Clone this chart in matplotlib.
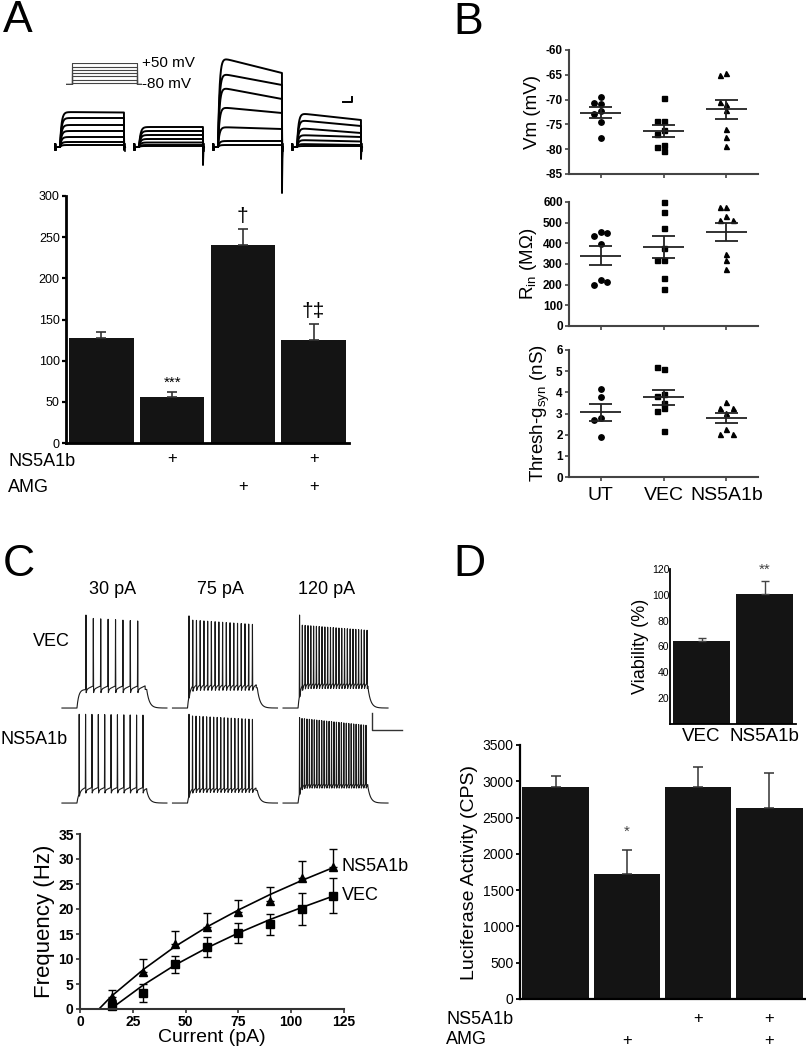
import numpy as np
import matplotlib
matplotlib.use("Agg")
import matplotlib.pyplot as plt
from matplotlib import transforms

plt.rcParams['font.family'] = ['Liberation Sans', 'DejaVu Sans']
plt.rcParams['axes.unicode_minus'] = False

# ---------------- data ----------------
# A: bar chart (current, pA/pF)
a_vals = [128, 56, 240, 125]
a_err = [7, 6, 20, 20]
a_ns5a1b = [False, True, False, True]
a_amg = [False, False, True, True]
a_marks = ['', '***', '\u2020', '\u2020\u2021']

# A: voltage-clamp families (nA), 7 sweeps each
fam_peak = [[3.5, 2.9, 2.2, 1.6, 1.0, 0.5, 0.2],
            [2.0, 1.6, 1.2, 0.8, 0.45, 0.2, 0.1],
            [9.0, 7.4, 6.0, 4.0, 2.0, 0.6, 0.2],
            [3.4, 2.7, 1.9, 1.2, 0.7, 0.3, 0.1]]
fam_end = [[3.45, 2.9, 2.2, 1.6, 1.0, 0.5, 0.2],
           [2.0, 1.6, 1.2, 0.8, 0.45, 0.2, 0.1],
           [7.4, 6.2, 4.8, 3.4, 1.8, 0.6, 0.2],
           [2.7, 2.1, 1.4, 1.0, 0.55, 0.2, 0.1]]
fam_tail = [0.3, 1.8, 4.6, 1.2]
prot_steps = [-70, -50, -30, -10, 10, 30, 50]
prot_hold = -80

# B: scatter data
b_groups = ['UT', 'VEC', 'NS5A1b']
vm = [[-69.5, -70.6, -70.9, -72.3, -72.9, -74.6, -77.8],
      [-69.6, -74.4, -74.4, -76.1, -76.9, -79.2, -79.6, -80.4],
      [-64.7, -65.0, -70.9, -70.4, -72.1, -75.9, -77.6, -79.3]]
rin = [[456, 437, 449, 397, 223, 198, 214],
       [599, 553, 476, 379, 319, 319, 231, 178],
       [576, 576, 532, 515, 515, 347, 318, 276]]
gsyn = [[4.18, 3.77, 2.78, 2.69, 1.90],
        [5.10, 5.18, 3.92, 3.84, 3.50, 3.24, 3.13, 2.18],
        [3.52, 3.28, 3.28, 3.03, 2.29, 2.05, 2.05]]
b_markers = ['o', 's', '^']

# C: current-clamp example traces
c_currents = ['30 pA', '75 pA', '120 pA']
# n spikes, first t, last t (ms), first/second/last peak (mV), plateau (mV), sawtooth depth
c_vec = [(8, 160, 505, 40, 36, 33, -48, 6),
         (18, 110, 533, 39, 34, 29, -46, 5),
         (25, 110, 560, 40, 28, 22, -44, 5)]
c_ns = [(11, 115, 540, 35, 35, 34, -55, 5),
        (19, 110, 533, 35, 33, 29, -55, 4),
        (28, 110, 553, 31, 30, 22, -50, 4)]

# C: f-I curve
current = [15, 30, 45, 60, 75, 90, 105, 120]
ns_freq = [2.4, 7.5, 13.0, 16.5, 19.4, 21.7, 26.3, 28.5]
ns_err = [1.5, 2.5, 2.7, 2.7, 2.5, 2.7, 3.4, 3.5]
vec_freq = [0.7, 3.3, 9.0, 12.5, 15.3, 17.0, 20.1, 22.7]
vec_err = [0.3, 1.8, 1.7, 2.0, 2.0, 2.1, 3.2, 3.5]
ns_fit_x = [9, 15, 30, 45, 60, 75, 90, 105, 120]
ns_fit_y = [0, 2.6, 7.9, 12.5, 16.4, 19.8, 22.9, 25.7, 28.3]
vec_fit_x = [14.5, 30, 45, 60, 75, 90, 105, 120]
vec_fit_y = [0, 4.8, 8.8, 12.2, 15.2, 17.9, 20.3, 22.6]

# D: viability inset
via_groups = ['VEC', 'NS5A1b']
via_vals = [64, 101]
via_err = [2.5, 10]

# D: luciferase
d_vals = [2920, 1720, 2920, 2630]
d_err = [150, 340, 270, 490]
d_ns5a1b = [False, False, True, True]
d_amg = [False, True, False, True]

# ---------------- figure ----------------
W, H = 806, 1050
fig = plt.figure(figsize=(W / 100, H / 100), dpi=100)


def axbox(x0, y0, x1, y1):
    return fig.add_axes([x0 / W, 1 - y1 / H, (x1 - x0) / W, (y1 - y0) / H])


def ftext(x, y, s, **kw):
    fig.text(x / W, 1 - y / H, s, **kw)


def style_axes(ax, lw=1.5, color='k', bold=False, size=9):
    for s in ['top', 'right']:
        ax.spines[s].set_visible(False)
    for s in ['left', 'bottom']:
        ax.spines[s].set_linewidth(lw)
        ax.spines[s].set_color(color)
    ax.tick_params(direction='out', length=3, width=lw * 0.8, color=color,
                   labelsize=size, pad=1.5)
    if bold:
        for lab in ax.get_yticklabels() + ax.get_xticklabels():
            lab.set_fontweight('bold')


# panel letters
for lab, x, y in [('A', 3, 20), ('B', 453, 22), ('C', 3, 565), ('D', 453, 565)]:
    ftext(x, y, lab, fontsize=32, va='center', ha='left')

# ---- A: traces ----
axt = axbox(50, 50, 370, 200)
axt.set_xlim(-10, 630)
axt.set_ylim(-5.3, 9.7)
axt.axis('off')
t = np.arange(0, 140, 0.1)
t_on, t_off = 10, 138
for i in range(4):
    t0 = i * 158
    for k in range(len(fam_peak[i])):
        pk, en = fam_peak[i][k], fam_end[i][k]
        cur = np.zeros_like(t)
        on = (t >= t_on) & (t < t_off)
        tt = t[on] - t_on
        cur[on] = (1 - np.exp(-tt / 3.0)) * (pk + (en - pk) * tt / (t_off - t_on))
        if k == 0:
            post = t >= t_off
            cur[post] = -fam_tail[i] * np.exp(-(t[post] - t_off) / 0.6)
        cur[(t < 0.6)] = 0.3
        cur[(t >= 0.6) & (t < 1.2)] = -0.3
        axt.plot(t + t0, cur, color='k', lw=1.4)
    axt.plot([t0 + t_off + 1, t0 + t_off + 1], [-0.35, 0.3], color='k', lw=1.2)
# scale bar
axt.plot([576, 594, 594], [4.5, 4.5, 5.0], color='k', lw=1.4)

# voltage protocol
axp = axbox(66, 63, 142, 85)
axp.axis('off')
axp.set_xlim(0, 100)
axp.set_ylim(-84, 53)
for v in prot_steps:
    axp.plot([0, 8, 8, 94, 94, 100], [prot_hold, prot_hold, v, v, prot_hold, prot_hold],
             color='#444', lw=0.8)
axp.text(100, prot_steps[-1], '+50 mV', fontsize=11, va='center', ha='left', clip_on=False)
axp.text(100, prot_hold, '-80 mV', fontsize=11, va='center', ha='left', clip_on=False)

# ---- A: bar chart ----
axa = axbox(66, 196, 349, 443)
xa = np.arange(len(a_vals))
axa.bar(xa, a_vals, width=0.91, color='#141414')
axa.errorbar(xa, a_vals, yerr=[np.zeros(4), a_err], fmt='none', ecolor='#333',
             capsize=3.5, elinewidth=1.2, capthick=1.2)
axa.set_xlim(-0.5, 3.5)
axa.set_ylim(0, 300)
axa.set_yticks(range(0, 301, 50))
axa.set_xticks([])
style_axes(axa, lw=2, size=9)
for x, v, e, m in zip(xa, a_vals, a_err, a_marks):
    if m:
        fs = 11 if m == '***' else 15
        axa.text(x, v + e + 3, m, ha='center', va='bottom', fontsize=fs)
bt = transforms.blended_transform_factory(axa.transData, fig.transFigure)
ftext(8, 462, 'NS5A1b', fontsize=13, va='center')
ftext(8, 487, 'AMG', fontsize=13, va='center')
for x, f1, f2 in zip(xa, a_ns5a1b, a_amg):
    if f1:
        axa.text(x, 1 - 459 / H, '+', transform=bt, ha='center', va='center', fontsize=12)
    if f2:
        axa.text(x, 1 - 486 / H, '+', transform=bt, ha='center', va='center', fontsize=12)


# ---- B: scatter panels ----
def swarm(vals, ax_h_px, lo, hi, d=0.11, tol=5.5):
    scale = ax_h_px / (hi - lo)
    placed, offs = [], []
    for v in vals:
        y = v * scale
        for off in [0, -d, d, -2 * d, 2 * d]:
            if all(abs(y - py) >= tol or abs(off - po) > 1e-9 for po, py in placed):
                break
        placed.append((off, y))
        offs.append(off)
    return np.array(offs)


b_specs = [(vm, (50, 174), (-85, -60), range(-85, -59, 5), 'Vm (mV)'),
           (rin, (202, 326), (0, 600), range(0, 601, 100), 'R$_{\\mathregular{in}}$ (M\u03a9)'),
           (gsyn, (350, 477), (0, 6), range(0, 7), 'Thresh-g$_{\\mathregular{syn}}$ (nS)')]
for j, (data, (y0, y1), (lo, hi), ticks, ylab) in enumerate(b_specs):
    ax = axbox(569, y0, 758, y1)
    for g, vals in enumerate(data):
        vals = np.array(vals)
        offs = swarm(vals, y1 - y0, lo, hi)
        ax.plot(g + offs, vals, b_markers[g], color='k', ms=3.6 if g else 3.9, ls='none',
                clip_on=False)
        m = vals.mean()
        s = vals.std(ddof=1) / np.sqrt(len(vals))
        ax.hlines(m, g - 0.33, g + 0.33, color='#222', lw=1.3)
        ax.hlines([m - s, m + s], g - 0.18, g + 0.18, color='#222', lw=1.3)
        ax.vlines(g, m - s, m + s, color='#222', lw=1.3)
    ax.set_xlim(-0.5, 2.5)
    ax.set_ylim(lo, hi)
    ax.set_yticks(list(ticks))
    ax.set_xticks([0, 1, 2])
    ax.set_xticklabels(b_groups if j == 2 else ['', '', ''])
    style_axes(ax, lw=1.5, color='#444', bold=True, size=8.5)
    ax.tick_params(axis='x', labelsize=14, pad=4)
    for lab in ax.get_xticklabels():
        lab.set_fontweight('normal')
    ax.set_ylabel(ylab, fontsize=13.5, labelpad=3)

# ---- C: example traces ----
cc_on, cc_off = 100, 565
dt_c = 0.25
tc = np.arange(0, 700, dt_c)


def cc_trace(n, t1, tn, pk1, pk2, pkn, plateau, depth):
    v = np.full_like(tc, -70.0)
    dur = (tc >= cc_on) & (tc < cc_off)
    v[dur] = -70 + (plateau + 70) * (1 - np.exp(-(tc[dur] - cc_on) / 12))
    post = tc >= cc_off
    v[post] = -70 + (plateau + 70) * np.exp(-(tc[post] - cc_off) / 18)
    spk = np.round(np.linspace(t1, tn, n) / dt_c) * dt_c
    pks = np.r_[pk1, np.linspace(pk2, pkn, n - 1)]
    isi = (tn - t1) / max(n - 1, 1)
    for ts in spk:
        seg = (tc >= ts) & (tc < min(ts + isi, cc_off))
        dt = tc[seg] - ts
        v[seg] += depth * (0.7 * dt / isi - np.exp(-dt / 4))
    for ts, pk in zip(spk, pks):
        m = np.abs(tc - ts) < 1.6
        v[m] = pk - (pk - v[m]) * np.abs(tc[m] - ts) / 1.6
    return v


row_specs = [(c_vec, (605, 712), (-74.7, 51.9)), (c_ns, (705, 812), (-80.6, 46.0))]
for r, (params, (y0, y1), ylim) in enumerate(row_specs):
    ax = axbox(60, y0, 405, y1)
    ax.axis('off')
    ax.set_xlim(-13, -13 + 345 / 0.15)
    ax.set_ylim(*ylim)
    for i, p in enumerate(params):
        ax.plot(tc + i * 737, cc_trace(*p), color='#1a1a1a', lw=0.8)
    if r == 1:
        ax.plot([2067, 2067, 2267], [36, 16, 16], color='#333', lw=1.0, clip_on=False)

for i, lab in enumerate(c_currents):
    ftext(113 + i * 107, 590, lab, fontsize=13, ha='center', va='center')
ftext(51, 641, 'VEC', fontsize=13, ha='center', va='center')
ftext(34, 740, 'NS5A1b', fontsize=13, ha='center', va='center')

# ---- C: f-I plot ----
axc = axbox(80, 834, 344, 1009)
axc.plot(ns_fit_x, ns_fit_y, color='k', lw=1.2)
axc.plot(vec_fit_x, vec_fit_y, color='k', lw=1.2)
axc.errorbar(current, ns_freq, yerr=[np.zeros(len(ns_err)), ns_err], fmt='^', color='k',
             ms=5.5, capsize=3, elinewidth=1, capthick=1, clip_on=False)
axc.errorbar(current, vec_freq, yerr=vec_err, fmt='s', color='k',
             ms=5.5, capsize=3, elinewidth=1, capthick=1, clip_on=False)
axc.set_xlim(0, 125)
axc.set_ylim(0, 35)
axc.set_xticks(range(0, 126, 25))
axc.set_yticks(range(0, 36, 5))
style_axes(axc, lw=1.5, color='#333', bold=True, size=10)
axc.set_xlabel('Current (pA)', fontsize=14, labelpad=0)
axc.set_ylabel('Frequency (Hz)', fontsize=16, labelpad=2)
axc.text(current[-1] + 4, ns_freq[-1], 'NS5A1b', fontsize=13, va='center', clip_on=False)
axc.text(current[-1] + 4, vec_freq[-1], 'VEC', fontsize=13, va='center', clip_on=False)

# ---- D: viability inset ----
axv = axbox(670, 569, 796, 724)
xv = np.arange(2)
axv.bar(xv, via_vals, width=0.91, color='#141414')
axv.errorbar(xv, via_vals, yerr=[np.zeros(2), via_err], fmt='none', ecolor='#444',
             capsize=3, elinewidth=1, capthick=1)
axv.set_xlim(-0.5, 1.5)
axv.set_ylim(0, 120)
axv.set_yticks(range(20, 121, 20))
axv.set_xticks(xv)
axv.set_xticklabels(via_groups)
style_axes(axv, lw=1.3, size=7.5)
axv.tick_params(axis='y', length=0, pad=0.5)
axv.tick_params(axis='x', length=0, labelsize=13.5, pad=3)
axv.set_ylabel('Viability (%)', fontsize=13, labelpad=2)
axv.text(1, via_vals[1] + via_err[1] + 3, '**', ha='center', va='bottom', fontsize=11,
         color='#444')

# ---- D: luciferase ----
axd = axbox(520, 745, 805, 999)
xd = np.arange(4)
axd.bar(xd, d_vals, width=0.93, color='#141414')
axd.errorbar(xd, d_vals, yerr=[np.zeros(4), d_err], fmt='none', ecolor='#333',
             capsize=3.5, elinewidth=1.1, capthick=1.1)
axd.set_xlim(-0.5, 3.5)
axd.set_ylim(0, 3500)
axd.set_yticks(range(0, 3501, 500))
axd.set_xticks([])
style_axes(axd, lw=1.6, size=10)
axd.set_ylabel('Luciferase Activity (CPS)', fontsize=14, labelpad=3)
axd.text(1, d_vals[1] + d_err[1] + 150, '*', ha='center', va='bottom', fontsize=11,
         color='#444')
bd = transforms.blended_transform_factory(axd.transData, fig.transFigure)
ftext(446, 1020, 'NS5A1b', fontsize=13, va='center')
ftext(446, 1040, 'AMG', fontsize=13, va='center')
for x, f1, f2 in zip(xd, d_ns5a1b, d_amg):
    if f1:
        axd.text(x, 1 - 1019 / H, '+', transform=bd, ha='center', va='center', fontsize=12)
    if f2:
        axd.text(x, 1 - 1040 / H, '+', transform=bd, ha='center', va='center', fontsize=12)

fig.savefig('out.png', dpi=100)
